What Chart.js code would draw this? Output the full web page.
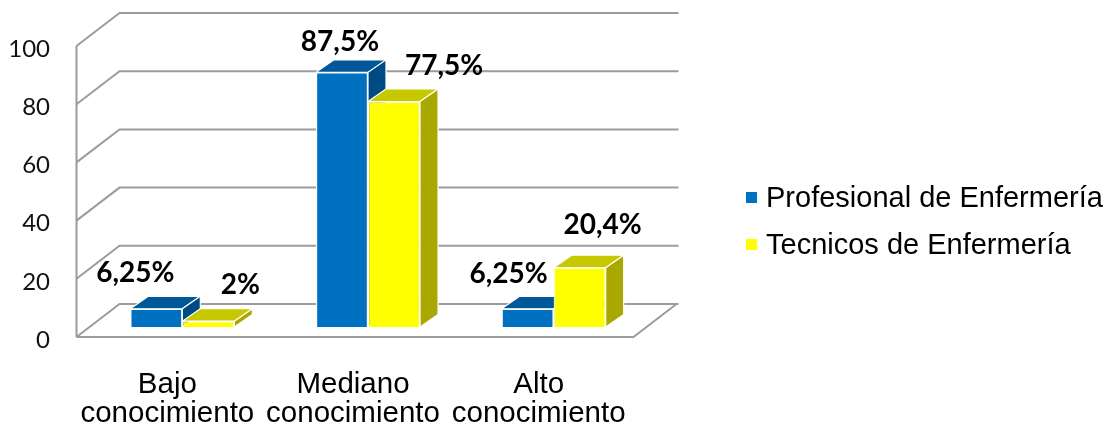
<!DOCTYPE html>
<html>
<head>
<meta charset="utf-8">
<script src="https://cdn.jsdelivr.net/npm/chart.js@4"></script>
<style>
  html, body { margin: 0; padding: 0; background: #fff; }
  #wrap { width: 1109px; height: 429px; position: relative; }
</style>
</head>
<body>
<div id="wrap"><canvas id="chartNivel"></canvas></div>
<script>
const categorias = [['Bajo', 'conocimiento'], ['Mediano', 'conocimiento'], ['Alto', 'conocimiento']];
const serieNombres = ['Profesional de Enfermería', 'Tecnicos de Enfermería'];
const profesionales = [6.25, 87.5, 6.25];
const tecnicos = [2, 77.5, 20.4];
const yTicks = [0, 20, 40, 60, 80, 100];

// colores: frente, tapa, lado
const caras = [
  { front: '#0070C0', top: '#00589B', side: '#004A83' },
  { front: '#FFFF00', top: '#C8C800', side: '#A8A800' }
];

// posicion manual de las etiquetas (como en el Excel original), relativa a la barra
const labelOffsets = [
  [[-21, -27], [-2, -21], [-19, -26]],
  [[32, -27], [50, -26], [23, -34]]
];
// ajuste del dibujo: la barra esta a media profundidad
const frontOff = { x: -13, y: 10 };
const backOff = { x: 30, y: -23 };
const barDepth = { x: 18, y: -12.5 };

function fmt(v) {
  return String(v).replace('.', ',') + '%';
}

const plot3d = {
  id: 'plot3d',
  beforeDatasetsDraw(chart) {
    const ctx = chart.ctx;
    const ys = chart.scales.y;
    const area = chart.chartArea;
    const xL = area.left, xR = area.right;
    ctx.save();
    ctx.strokeStyle = '#9c9c9c';
    ctx.lineWidth = 2;
    // paredes: lineas de division
    yTicks.forEach(t => {
      const p = ys.getPixelForValue(t);
      ctx.beginPath();
      ctx.moveTo(xL + frontOff.x, p + frontOff.y);
      ctx.lineTo(xL + backOff.x, p + backOff.y);
      ctx.lineTo(xR + backOff.x + 2, p + backOff.y);
      ctx.stroke();
    });
    // eje vertical frontal
    ctx.beginPath();
    ctx.moveTo(xL + frontOff.x, ys.getPixelForValue(100) + frontOff.y);
    ctx.lineTo(xL + frontOff.x, ys.getPixelForValue(0) + frontOff.y);
    ctx.stroke();
    // piso
    const b = ys.getPixelForValue(0);
    ctx.beginPath();
    ctx.moveTo(xL + frontOff.x, b + frontOff.y);
    ctx.lineTo(xR + frontOff.x, b + frontOff.y);
    ctx.lineTo(xR + backOff.x, b + backOff.y);
    ctx.stroke();

    // tapas y lados de las barras
    ctx.strokeStyle = '#ffffff';
    ctx.lineWidth = 1.2;
    ctx.lineJoin = 'round';
    for (let i = 0; i < categorias.length; i++) {
      chart.data.datasets.forEach((ds, d) => {
        const bar = chart.getDatasetMeta(d).data[i];
        const p = bar.getProps(['x', 'y', 'base', 'width'], true);
        const l = p.x - p.width / 2, r = p.x + p.width / 2;
        ctx.fillStyle = caras[d].top;
        ctx.beginPath();
        ctx.moveTo(l, p.y);
        ctx.lineTo(l + barDepth.x, p.y + barDepth.y);
        ctx.lineTo(r + barDepth.x, p.y + barDepth.y);
        ctx.lineTo(r, p.y);
        ctx.closePath();
        ctx.fill();
        ctx.stroke();
        ctx.fillStyle = caras[d].side;
        ctx.beginPath();
        ctx.moveTo(r, p.y);
        ctx.lineTo(r + barDepth.x, p.y + barDepth.y);
        ctx.lineTo(r + barDepth.x, p.base + barDepth.y);
        ctx.lineTo(r, p.base);
        ctx.closePath();
        ctx.fill();
        ctx.stroke();
      });
    }
    ctx.restore();
  },
  afterDatasetsDraw(chart) {
    const ctx = chart.ctx;
    const ys = chart.scales.y;
    const xs = chart.scales.x;
    const area = chart.chartArea;
    ctx.save();
    ctx.fillStyle = '#000';

    // etiquetas de datos
    ctx.font = 'bold 28px Lato, "Open Sans", sans-serif';
    ctx.textAlign = 'center';
    ctx.textBaseline = 'alphabetic';
    chart.data.datasets.forEach((ds, d) => {
      chart.getDatasetMeta(d).data.forEach((bar, i) => {
        const p = bar.getProps(['x', 'y'], true);
        const o = labelOffsets[d][i];
        ctx.fillText(fmt(ds.data[i]), p.x + o[0], p.y + o[1]);
      });
    });

    // eje Y
    ctx.font = '24px Lato, "Open Sans", sans-serif';
    ctx.textAlign = 'right';
    ctx.textBaseline = 'middle';
    ctx.fillStyle = '#111';
    yTicks.forEach(t => {
      ctx.fillText(String(t), area.left - 39.5, ys.getPixelForValue(t) + frontOff.y + 3);
    });

    // eje X
    ctx.font = '29.5px "Liberation Sans", Arial, sans-serif';
    ctx.textAlign = 'center';
    ctx.textBaseline = 'alphabetic';
    ctx.fillStyle = '#000';
    categorias.forEach((lines, i) => {
      const cx = xs.getPixelForValue(i) - 15;
      lines.forEach((ln, k) => {
        ctx.fillText(ln, cx, 393 + k * 29);
      });
    });

    // leyenda
    ctx.font = '29px "Liberation Sans", Arial, sans-serif';
    ctx.textAlign = 'left';
    serieNombres.forEach((name, d) => {
      const y0 = 192 + d * 47;
      ctx.fillStyle = caras[d].front;
      ctx.fillRect(746, y0, 11, 11);
      ctx.fillStyle = '#000';
      ctx.fillText(name, 766, y0 + 15);
    });
    ctx.restore();
  }
};

const ctx = document.getElementById('chartNivel').getContext('2d');
new Chart(ctx, {
  type: 'bar',
  data: {
    labels: categorias,
    datasets: [
      {
        label: serieNombres[0],
        data: profesionales,
        backgroundColor: caras[0].front,
        borderColor: '#ffffff',
        borderWidth: 1.2
      },
      {
        label: serieNombres[1],
        data: tecnicos,
        backgroundColor: caras[1].front,
        borderColor: '#ffffff',
        borderWidth: 1.2
      }
    ]
  },
  options: {
    responsive: true,
    maintainAspectRatio: false,
    animation: false,
    datasets: {
      bar: {
        barPercentage: 1,
        categoryPercentage: 0.5606
      }
    },
    layout: {
      padding: { left: 89.5, right: 462.5, top: 36, bottom: 102 }
    },
    scales: {
      x: { display: false },
      y: { display: false, min: 0, max: 100 }
    },
    plugins: {
      legend: { display: false },
      tooltip: { enabled: false }
    }
  },
  plugins: [plot3d]
});
</script>
</body>
</html>
